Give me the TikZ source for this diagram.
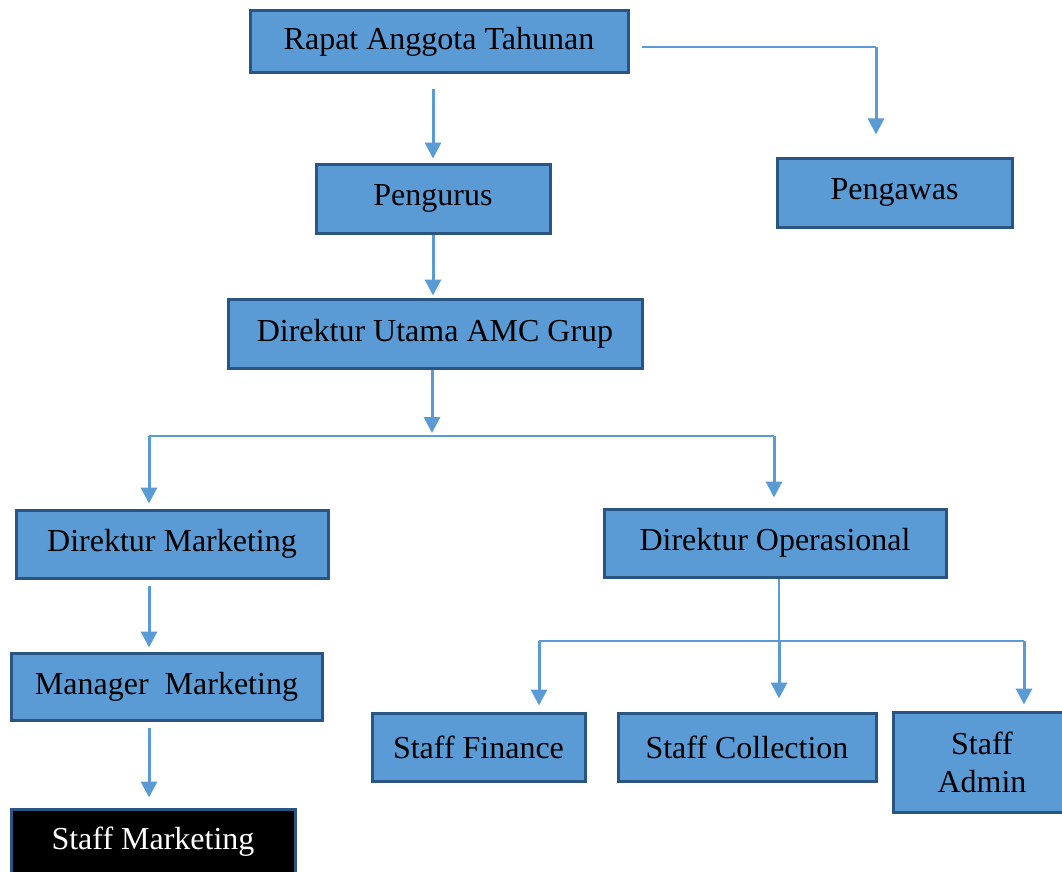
\documentclass[tikz,border=0pt]{standalone}
\usepackage{fontspec}
\setmainfont{Liberation Serif}
\usetikzlibrary{arrows.meta,calc}
\definecolor{boxfill}{HTML}{5B9BD5}
\definecolor{boxline}{HTML}{2A5482}
\begin{document}
\begin{tikzpicture}[x=1pt,y=-1pt,
  box/.style={draw=boxline,line width=3pt,fill=boxfill,inner sep=0pt,
    font=\fontsize{32}{38}\selectfont,align=center},
  arr/.style={draw=boxfill,line width=3pt,-{Triangle[width=16pt,length=16pt]}},
  thinline/.style={draw=boxfill,line width=1.6pt}]
\useasboundingbox (0,0) rectangle (1062,872);
\fill[white] (0,0) rectangle (1062,872);
% nodes
\node[box,minimum width=378pt,minimum height=62pt] (rapat) at (439,42) {Rapat Anggota Tahunan};
\node[box,minimum width=234pt,minimum height=69pt] (pengurus) at (433,198.5) {Pengurus};
\node[box,minimum width=235pt,minimum height=69pt] (pengawas) at (894.5,192.5) {Pengawas};
\node[box,minimum width=414pt,minimum height=69pt] (dirut) at (435,333.5) {Direktur Utama AMC Grup};
\node[box,minimum width=312pt,minimum height=68pt] (dirmkt) at (172,544) {Direktur Marketing};
\node[box,minimum width=342pt,minimum height=68pt] (dirops) at (775,543) {Direktur Operasional};
\node[box,minimum width=311pt,minimum height=67pt] (mgr) at (166.5,686.5) {Manager\ \ Marketing};
\node[box,fill=black,text=white,minimum width=284pt,minimum height=66pt] (smkt) at (153,842) {Staff Marketing};
\node[box,minimum width=213pt,minimum height=68pt] (sfin) at (478.5,747) {Staff Finance};
\node[box,minimum width=258pt,minimum height=68pt] (scol) at (747,747) {Staff Collection};
\node[box,minimum width=178pt,minimum height=100pt] (sadm) at (982,762) {Staff\\Admin};
% junction coordinates
\coordinate (pA) at ($(rapat.east)+(12,5)$);
\coordinate (pB) at (876,47);
\coordinate (jM) at (432,436);
\coordinate (jL) at (149,436);
\coordinate (jR) at (774,436);
\coordinate (kM) at (779,641);
\coordinate (kL) at (539,641);
\coordinate (kR) at (1024,641);
% connectors
\draw[arr,shorten <=15pt,shorten >=4pt] (pengurus.north |- rapat.south) -- (pengurus.north);
\draw[thinline] (pA) -- (pB);
\draw[arr,shorten >=22pt] (pB) -- (pB |- pengawas.north);
\draw[arr,shorten >=2pt] (pengurus.south) -- (pengurus.south |- dirut.north);
\draw[arr,shorten >=3pt] (jM |- dirut.south) -- (jM);
\draw[thinline] (jL) -- (jR);
\draw[arr,shorten >=5pt] (jL) -- (jL |- dirmkt.north);
\draw[arr,shorten >=10pt] (jR) -- (jR |- dirops.north);
\draw[arr,shorten <=6pt,shorten >=4pt] (jL |- dirmkt.south) -- (jL |- mgr.north);
\draw[arr,shorten <=6pt,shorten >=10pt] (jL |- mgr.south) -- (jL |- smkt.north);
\draw[thinline] (kM |- dirops.south) -- (kM);
\draw[thinline] (kL) -- (kR);
\draw[arr,shorten >=6pt] (kL) -- (kL |- sfin.north);
\draw[arr,shorten >=13pt] (kM) -- (kM |- scol.north);
\draw[arr,shorten >=6pt] (kR) -- (kR |- sadm.north);
\end{tikzpicture}
\end{document}
